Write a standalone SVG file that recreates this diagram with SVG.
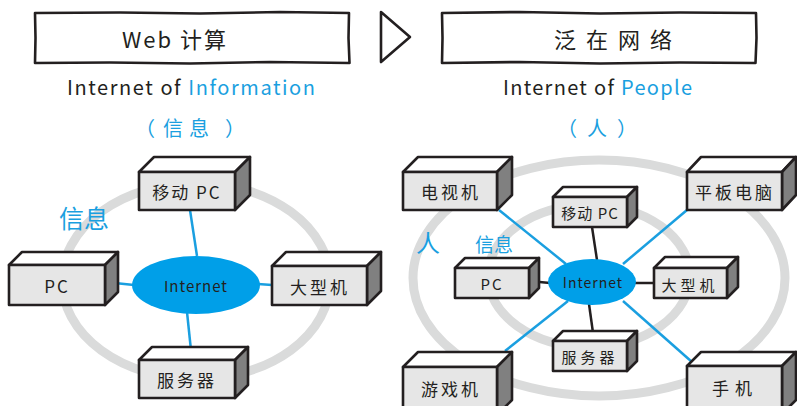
<svg xmlns="http://www.w3.org/2000/svg" width="797" height="406" viewBox="0 0 797 406">
  <style>
    .frame { fill: #ffffff; stroke: #231f20; stroke-width: 2.6; stroke-linejoin: round; }
    .ink { font-family: "Noto Sans CJK SC", "Liberation Sans", sans-serif; fill: #231f20; }
    .blue { fill: #1a9fe0; }
    .ring { fill: none; stroke: #dadbdb; stroke-width: 9; }
    .link-blue { stroke: #1a9fe0; stroke-width: 2.5; }
    .link-dark { stroke: #231f20; stroke-width: 2.5; }
    .hub { fill: #009fe8; }
    .front { fill: #e6e6e6; stroke: #231f20; stroke-width: 2.6; stroke-linejoin: round; }
    .top { fill: #ffffff; stroke: #231f20; stroke-width: 2.6; stroke-linejoin: round; }
    .side { fill: #808080; stroke: #231f20; stroke-width: 2.6; stroke-linejoin: round; }
    .label { font-family: "Noto Sans CJK SC", "Liberation Sans", sans-serif; fill: #231f20; text-anchor: middle; dominant-baseline: central; }
  </style>

  <!-- header: two titled frames joined by an arrow -->
  <g id="title-web">
    <path class="frame" d="M35,13 L120,12.5 L200,13.5 L280,12 L349,13 L348.5,38 L349.5,63 L270,62 L190,63.5 L110,62.5 L35,63 L35.5,38 Z"/>
    <text class="ink" x="175" y="38" font-size="22" text-anchor="middle" dominant-baseline="central" letter-spacing="2">Web 计算</text>
  </g>
  <g id="step-arrow">
    <path d="M381,12 L410,37 L381,62 Z" fill="none" stroke="#231f20" stroke-width="2.6" stroke-linejoin="round"/>
  </g>
  <g id="title-ubiquitous">
    <path class="frame" d="M442,13 L520,12 L600,13.5 L680,12.5 L756,13 L756.5,38 L755.5,63 L680,62.5 L600,63.5 L520,62 L442,63 L442.5,38 Z"/>
    <text class="ink" x="618" y="38" font-size="22" text-anchor="middle" dominant-baseline="central" letter-spacing="10">泛在网络</text>
  </g>

  <!-- subtitles -->
  <text class="ink" x="67" y="95" font-size="20" textLength="248" lengthAdjust="spacing">Internet of <tspan class="blue">Information</tspan></text>
  <text class="ink blue" y="127" font-size="20" dominant-baseline="central"><tspan x="135">（</tspan><tspan x="163" letter-spacing="6">信息</tspan><tspan x="225">）</tspan></text>
  <text class="ink" x="503" y="95" font-size="20" textLength="189" lengthAdjust="spacing">Internet of <tspan class="blue">People</tspan></text>
  <text class="ink blue" y="127" font-size="20" dominant-baseline="central"><tspan x="557">（</tspan><tspan x="587">人</tspan><tspan x="617">）</tspan></text>

  <!-- rings -->
  <ellipse class="ring" cx="196" cy="281" rx="134" ry="98"/>
  <ellipse class="ring" cx="599" cy="278" rx="186" ry="118"/>
  <ellipse class="ring" cx="589" cy="276" rx="101" ry="71"/>

  <!-- ring captions -->
  <text class="ink blue" x="84" y="217" font-size="25" text-anchor="middle" dominant-baseline="central">信息</text>
  <text class="ink blue" x="428" y="241" font-size="24" text-anchor="middle" dominant-baseline="central">人</text>
  <text class="ink blue" x="494" y="243" font-size="19" text-anchor="middle" dominant-baseline="central">信息</text>

  <!-- connectors -->
  <g id="connectors">
    <line class="link-blue" x1="190" y1="210" x2="197" y2="256"/>
    <line class="link-blue" x1="105" y1="282" x2="134" y2="285"/>
    <line class="link-blue" x1="258" y1="284" x2="272" y2="285"/>
    <line class="link-blue" x1="187" y1="312" x2="192" y2="360"/>

    <line class="link-blue" x1="499" y1="210" x2="566" y2="264"/>
    <line class="link-blue" x1="687" y1="210" x2="623" y2="264"/>
    <line class="link-blue" x1="505" y1="351" x2="568" y2="301"/>
    <line class="link-blue" x1="692" y1="362" x2="623" y2="301"/>
    <line class="link-dark" x1="592" y1="227" x2="597" y2="260"/>
    <line class="link-dark" x1="529" y1="281" x2="550" y2="283"/>
    <line class="link-dark" x1="634" y1="283" x2="654" y2="283"/>
    <line class="link-dark" x1="589" y1="304" x2="594" y2="340"/>
  </g>

  <!-- hubs -->
  <g id="hub-left">
    <ellipse class="hub" cx="196" cy="285" rx="64" ry="29"/>
    <text class="label" x="196" y="285" font-size="15" letter-spacing="1">Internet</text>
  </g>
  <g id="hub-right">
    <ellipse class="hub" cx="592" cy="282" rx="44" ry="23"/>
    <text class="label" x="593" y="282" font-size="14" letter-spacing="1">Internet</text>
  </g>

  <!-- left network boxes -->
  <g id="mobile-pc-left">
    <polygon class="top" points="139,172 154,157 250,157 235,172"/>
    <polygon class="side" points="235,172 250,157 250,195 235,210"/>
    <rect class="front" x="139" y="172" width="96" height="38"/>
    <text class="label" x="187" y="191" font-size="17" letter-spacing="2">移动 PC</text>
  </g>
  <g id="pc-left">
    <polygon class="top" points="9,265 22,252 118,252 105,265"/>
    <polygon class="side" points="105,265 118,252 118,292 105,305"/>
    <rect class="front" x="9" y="265" width="96" height="40"/>
    <text class="label" x="57" y="285" font-size="17" letter-spacing="2">PC</text>
  </g>
  <g id="mainframe-left">
    <polygon class="top" points="272,266 286,252 381,252 367,266"/>
    <polygon class="side" points="367,266 381,252 381,291 367,305"/>
    <rect class="front" x="272" y="266" width="95" height="39"/>
    <text class="label" x="320" y="286" font-size="17" letter-spacing="3">大型机</text>
  </g>
  <g id="server-left">
    <polygon class="top" points="139,360 152,347 248,347 235,360"/>
    <polygon class="side" points="235,360 248,347 248,385 235,398"/>
    <rect class="front" x="139" y="360" width="96" height="38"/>
    <text class="label" x="187" y="379" font-size="17" letter-spacing="3">服务器</text>
  </g>

  <!-- right network: inner boxes -->
  <g id="mobile-pc-right">
    <polygon class="top" points="553,197 563,187 637,187 627,197"/>
    <polygon class="side" points="627,197 637,187 637,217 627,227"/>
    <rect class="front" x="553" y="197" width="74" height="30"/>
    <text class="label" x="590" y="212" font-size="15" letter-spacing="1">移动 PC</text>
  </g>
  <g id="pc-right">
    <polygon class="top" points="455,268 465,258 539,258 529,268"/>
    <polygon class="side" points="529,268 539,258 539,288 529,298"/>
    <rect class="front" x="455" y="268" width="74" height="30"/>
    <text class="label" x="492" y="283" font-size="15" letter-spacing="2">PC</text>
  </g>
  <g id="mainframe-right">
    <polygon class="top" points="654,268 665,257 738,257 727,268"/>
    <polygon class="side" points="727,268 738,257 738,287 727,298"/>
    <rect class="front" x="654" y="268" width="73" height="30"/>
    <text class="label" x="690" y="284" font-size="15" letter-spacing="4">大型机</text>
  </g>
  <g id="server-right">
    <polygon class="top" points="553,341 563,331 637,331 627,341"/>
    <polygon class="side" points="627,341 637,331 637,361 627,371"/>
    <rect class="front" x="553" y="341" width="74" height="30"/>
    <text class="label" x="590" y="356" font-size="15" letter-spacing="4">服务器</text>
  </g>

  <!-- right network: outer boxes -->
  <g id="tv">
    <polygon class="top" points="403,172 418,157 512,157 497,172"/>
    <polygon class="side" points="497,172 512,157 512,195 497,210"/>
    <rect class="front" x="403" y="172" width="94" height="38"/>
    <text class="label" x="451" y="191" font-size="17" letter-spacing="3">电视机</text>
  </g>
  <g id="tablet">
    <polygon class="top" points="687,172 701,157 796,157 782,172"/>
    <polygon class="side" points="782,172 796,157 796,195 782,210"/>
    <rect class="front" x="687" y="172" width="95" height="38"/>
    <text class="label" x="735" y="191" font-size="17" letter-spacing="3">平板电脑</text>
  </g>
  <g id="game-console">
    <polygon class="top" points="403,367 418,352 512,352 497,367"/>
    <polygon class="side" points="497,367 512,352 512,400 497,415"/>
    <rect class="front" x="403" y="367" width="94" height="50"/>
    <text class="label" x="451" y="388" font-size="17" letter-spacing="3">游戏机</text>
  </g>
  <g id="phone">
    <polygon class="top" points="687,366 701,352 796,352 782,366"/>
    <polygon class="side" points="782,366 796,352 796,400 782,414"/>
    <rect class="front" x="687" y="366" width="95" height="50"/>
    <text class="label" x="735" y="387" font-size="17" letter-spacing="6">手机</text>
  </g>
</svg>
